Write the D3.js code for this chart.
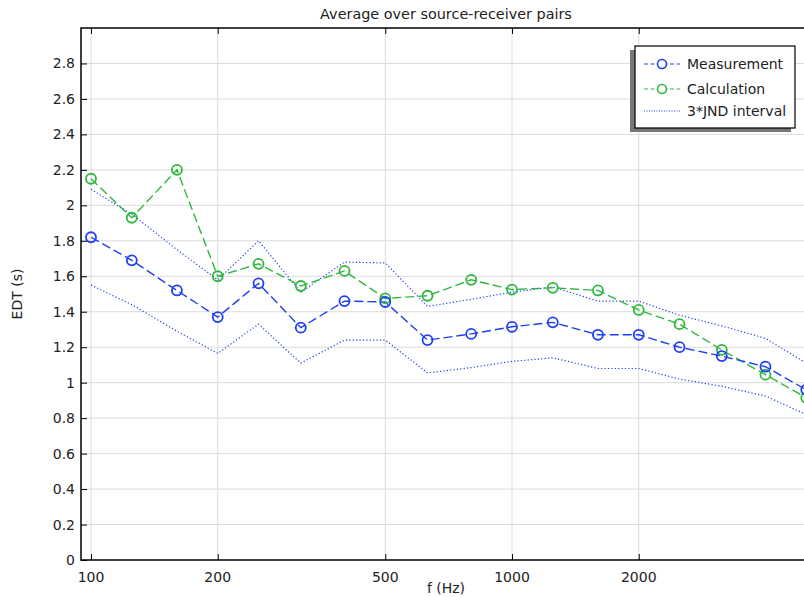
<!DOCTYPE html>
<html><head><meta charset="utf-8">
<script src="https://cdn.jsdelivr.net/npm/d3@7"></script>
<style>body{margin:0;background:#fff}svg{display:block}text{font-family:"DejaVu Sans",sans-serif;fill:#222}</style>
</head><body>
<svg id="c" width="804" height="597"></svg>
<script>
const freqs = [100,125,160,200,250,315,400,500,630,800,1000,1250,1600,2000,2500,3150,4000,5000];
const measurement = [1.82,1.69,1.52,1.37,1.56,1.31,1.46,1.455,1.24,1.275,1.315,1.34,1.27,1.27,1.20,1.15,1.09,0.96];
const calculation = [2.15,1.93,2.20,1.60,1.67,1.545,1.63,1.475,1.49,1.58,1.525,1.535,1.52,1.41,1.33,1.185,1.045,0.915];
const jndUpper = [2.09,1.95,1.75,1.58,1.80,1.51,1.68,1.675,1.43,1.47,1.51,1.54,1.46,1.46,1.38,1.32,1.25,1.11];
const jndLower = [1.55,1.44,1.29,1.165,1.33,1.11,1.24,1.24,1.055,1.085,1.12,1.14,1.08,1.08,1.02,0.98,0.925,0.82];
const xTicks = [100,200,500,1000,2000];
const yTicks = [0,0.2,0.4,0.6,0.8,1,1.2,1.4,1.6,1.8,2,2.2,2.4,2.6,2.8];
const title = "Average over source-receiver pairs";
const xLabel = "f (Hz)", yLabel = "EDT (s)";
const legendItems = ["Measurement","Calculation","3*JND interval"];

const blue = "#1f3ff5", green = "#30b83e";
const svg = d3.select("#c");
const L = 81, T = 28, B = 560, R = 830;
const x = d3.scaleLog().domain([100,5000]).range([91, 91+421*Math.log10(50)]);
const y = d3.scaleLinear().domain([0,3]).range([B,T]);

// grid
const g = svg.append("g");
g.selectAll(".gx").data(xTicks).enter().append("line")
  .attr("x1",d=>x(d)).attr("x2",d=>x(d)).attr("y1",T).attr("y2",B)
  .attr("stroke","#dcdcdc").attr("stroke-width",1);
g.selectAll(".gy").data(yTicks.filter(d=>d>0)).enter().append("line")
  .attr("x1",L).attr("x2",R).attr("y1",d=>y(d)).attr("y2",d=>y(d))
  .attr("stroke","#dcdcdc").attr("stroke-width",1);

// axes (inward ticks)
const xAxisB = d3.axisTop(x).tickValues(xTicks).tickSize(6).tickFormat("");
svg.append("g").attr("transform",`translate(0,${B})`).call(xAxisB)
  .call(a=>a.select(".domain").remove()).selectAll("line").attr("stroke","#000");
const xAxisT = d3.axisBottom(x).tickValues(xTicks).tickSize(6).tickFormat("");
svg.append("g").attr("transform",`translate(0,${T})`).call(xAxisT)
  .call(a=>a.select(".domain").remove()).selectAll("line").attr("stroke","#000");
const yAxis = d3.axisRight(y).tickValues(yTicks).tickSize(6).tickFormat("");
svg.append("g").attr("transform",`translate(${L},0)`).call(yAxis)
  .call(a=>a.select(".domain").remove()).selectAll("line").attr("stroke","#000");

// tick labels
svg.selectAll(".xl").data(xTicks).enter().append("text")
  .attr("x",d=>x(d)).attr("y",B+22).attr("text-anchor","middle").attr("font-size",14).text(d=>d);
svg.selectAll(".yl").data(yTicks).enter().append("text")
  .attr("x",L-6).attr("y",d=>y(d)+5).attr("text-anchor","end").attr("font-size",14).text(d=>d3.format("~g")(d));

// frame
svg.append("path").attr("d",`M${R},${T}H${L}V${B}H${R}`).attr("fill","none").attr("stroke","#000").attr("stroke-width",1.5);

// lines
const line = vals => d3.line().x((d,i)=>x(freqs[i])).y(d=>y(d))(vals);
svg.append("path").attr("d",line(jndUpper)).attr("fill","none").attr("stroke",blue).attr("stroke-width",1.2).attr("stroke-dasharray","1.2,2.2");
svg.append("path").attr("d",line(jndLower)).attr("fill","none").attr("stroke",blue).attr("stroke-width",1.2).attr("stroke-dasharray","1.2,2.2");
svg.append("path").attr("d",line(calculation)).attr("fill","none").attr("stroke",green).attr("stroke-width",1.4).attr("stroke-dasharray","9,4");
svg.append("path").attr("d",line(measurement)).attr("fill","none").attr("stroke",blue).attr("stroke-width",1.4).attr("stroke-dasharray","9,4");
svg.selectAll(".cm").data(calculation).enter().append("circle")
  .attr("cx",(d,i)=>x(freqs[i])).attr("cy",d=>y(d)).attr("r",5).attr("fill","none").attr("stroke",green).attr("stroke-width",1.8);
svg.selectAll(".mm").data(measurement).enter().append("circle")
  .attr("cx",(d,i)=>x(freqs[i])).attr("cy",d=>y(d)).attr("r",5).attr("fill","none").attr("stroke",blue).attr("stroke-width",1.8);

// labels
svg.append("text").attr("x",446).attr("y",19).attr("text-anchor","middle").attr("font-size",14.4).text(title);
svg.append("text").attr("x",446).attr("y",593).attr("text-anchor","middle").attr("font-size",14).text(xLabel);
svg.append("text").attr("transform","translate(22,294) rotate(-90)").attr("text-anchor","middle").attr("font-size",14).text(yLabel);

// legend
const lg = svg.append("g");
lg.append("rect").attr("x",630).attr("y",50).attr("width",161).attr("height",82).attr("fill","#777");
lg.append("rect").attr("x",635).attr("y",46).attr("width",160).attr("height",82).attr("fill","#fff").attr("stroke","#000").attr("stroke-width",1.2);
const ly = [64,89,111];
const styles = [{c:blue,dash:"4,2.5",m:true},{c:green,dash:"4,2.5",m:true},{c:blue,dash:"1,1.5",m:false}];
legendItems.forEach((t,i)=>{
  lg.append("line").attr("x1",644).attr("x2",680).attr("y1",ly[i]).attr("y2",ly[i])
    .attr("stroke",styles[i].c).attr("stroke-width",1.2).attr("stroke-dasharray",styles[i].dash);
  if(styles[i].m) lg.append("circle").attr("cx",662).attr("cy",ly[i]).attr("r",4.5).attr("fill","#fff").attr("stroke",styles[i].c).attr("stroke-width",1.6);
  lg.append("text").attr("x",687).attr("y",ly[i]+5).attr("font-size",14).text(t);
});
</script>
</body></html>
